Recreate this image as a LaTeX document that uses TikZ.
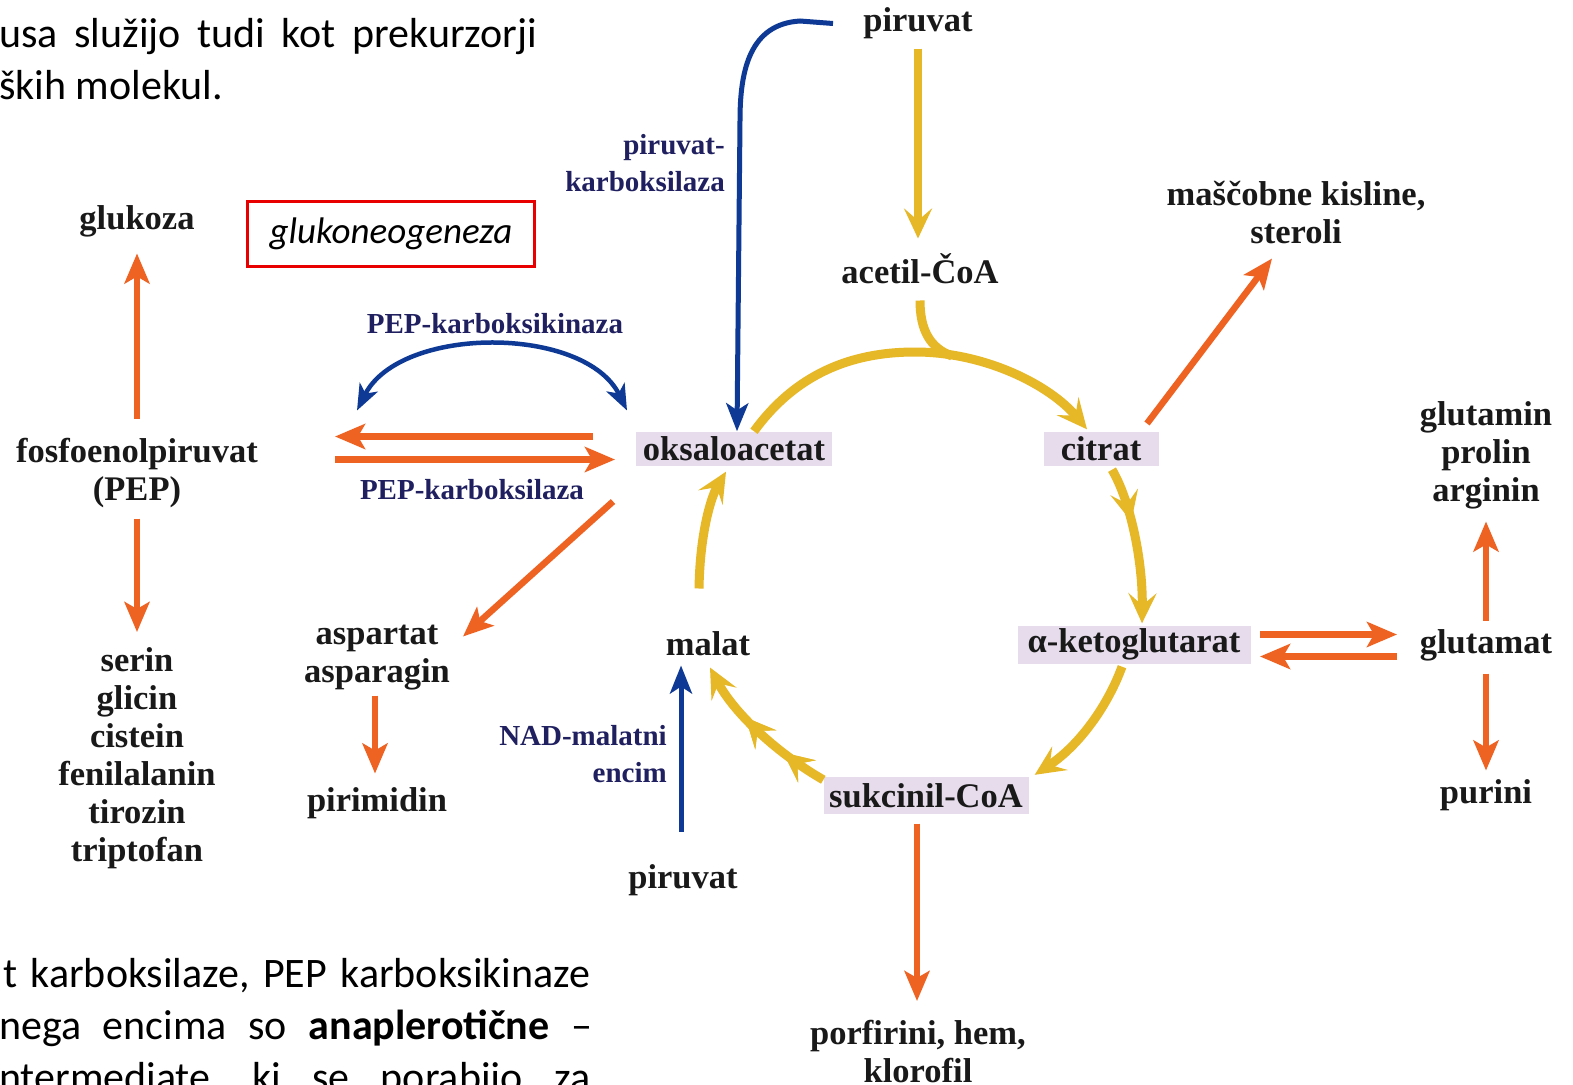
\documentclass[tikz,border=0pt]{standalone}
\usepackage{fontspec}
\setmainfont{Liberation Serif}
\newfontfamily\calib{Carlito}
\usetikzlibrary{arrows.meta,calc,decorations.markings}
\definecolor{orng}{RGB}{238,98,34}
\definecolor{ylw}{RGB}{230,184,40}
\definecolor{blu}{RGB}{14,58,150}
\definecolor{navy}{RGB}{32,32,96}
\definecolor{lav}{RGB}{230,220,236}
\definecolor{redbox}{RGB}{232,0,0}
\begin{document}
\begin{tikzpicture}[x=1pt,y=-1pt,
  lbl/.style={inner sep=0pt, font=\fontsize{34.5}{38}\selectfont\bfseries, align=center, text=black!90, yshift=-3.5pt},
  enz/.style={inner sep=0pt, font=\fontsize{29}{37}\selectfont\bfseries, text=navy, align=center, yshift=-2pt},
  mbox/.style={lbl, fill=lav, minimum height=34pt},
  body/.style={inner sep=0pt, anchor=base west, font=\calib\fontsize{42}{52}\selectfont},
  oarr/.style={draw=orng, line width=6.5pt, -{Stealth[length=30pt,width=25pt,inset=7pt]}},
  barr/.style={draw=blu, line width=5pt, -{Stealth[length=28pt,width=22pt,inset=7pt]}},
  ytip/.tip={Stealth[length=30pt,width=28pt,inset=12pt]},
  yarr/.style={draw=ylw, color=ylw, line width=9pt, -ytip},
  midarr/.style={postaction={decorate}, decoration={markings, mark=at position #1 with {\arrow{ytip}}}},
]
\useasboundingbox (0,0) rectangle (1573,1084);
\clip (0,0) rectangle (1573,1084);
\fill[white] (0,0) rectangle (1573,1084);

% body text
\node[body] (t1) at (-1,47) {\hbox to 538pt{usa\hfill služijo\hfill tudi\hfill kot\hfill prekurzorji}};
\node[body] (t2) at (-1,99) {ških molekul.};
\node[body] (b1) at (3,987) {\hbox to 587pt{t\hfill karboksilaze,\hfill PEP\hfill karboksikinaze}};
\node[body] (b2) at (-1,1039) {\hbox to 593pt{nega\hfill encima\hfill so\hfill \textbf{anaplerotične}\hfill –}};
\node[body] (b3) at (-1,1091) {\hbox to 591pt{ntermediate,\hfill ki\hfill se\hfill porabijo\hfill za}};

% framed label
\node[draw=redbox, line width=3pt, minimum width=287pt, minimum height=65pt, inner sep=0pt,
      font=\calib\itshape\fontsize{37}{40}\selectfont] (gng) at (391,233.5) {\raisebox{-3pt}{glukoneogeneza}};

% nodes
\node[lbl] (pirT) at (918,20) {piruvat};
\node[lbl] (acetil) at (920,265) {acetil-ČoA};
\node[lbl] (masc) at (1296,209) {maščobne kisline,\\steroli};
\node[lbl] (gluk) at (137,218) {glukoza};
\node[enz] (pepkin) at (495,322) {PEP-karboksikinaza};
\node[lbl] (pep) at (137,470) {fosfoenolpiruvat\\(PEP)};
\node[mbox, minimum width=196pt] (oks) at (734,445) {oksaloacetat};
\node[mbox, minimum width=115pt] (cit) at (1101,445) {citrat};
\node[lbl] (glm) at (1486,452) {glutamin\\prolin\\arginin};
\node[enz] (pepkarb) at (472,488) {PEP-karboksilaza};
\node[lbl] (asp) at (377,654) {aspartat\\asparagin};
\node[lbl] (mal) at (708,640) {malat};
\node[mbox, minimum width=233pt, minimum height=38pt] (akg) at (1134,641) {α-ketoglutarat};
\node[lbl] (glt) at (1486,642) {glutamat};
\node[lbl] (amino) at (137,754.5) {serin\\glicin\\cistein\\fenilalanin\\tirozin\\triptofan};
\node[enz, align=right, anchor=east] (nad) at (667,752) {NAD-malatni\\encim};
\node[lbl] (pirim) at (377,800) {pirimidin};
\node[mbox, minimum width=205pt, minimum height=37pt] (suk) at (926,792) {sukcinil-CoA};
\node[lbl] (pur) at (1486,792) {purini};
\node[lbl] (pirB) at (683,877) {piruvat};
\node[lbl] (porf) at (918,1048.5) {porfirini, hem,\\klorofil};
\node[enz, align=right, anchor=east] (pkarb) at (725,161.5) {piruvat-\\karboksilaza};

% orange arrows
\draw[oarr] ($(pep)+(0,-55)$) -- ($(gluk)+(0,32)$);
\draw[oarr] ($(pep)+(0,45)$) -- ($(amino)+(0,-126)$);
\draw[oarr] ($(oks)+(-141,-12)$) -- ($(pep)+(198,-37)$);
\draw[oarr] ($(pep)+(198,-14)$) -- ($(oks)+(-119,11)$);
\draw[oarr] ($(oks)+(-121,53)$) -- ($(asp)+(86,-21)$);
\draw[oarr] ($(asp)+(-2,38)$) -- ($(pirim)+(-2,-30)$);
\draw[oarr] ($(cit)+(46,-25)$) -- ($(masc)+(-24,46)$);
\draw[oarr] ($(akg)+(126,-10)$) -- ($(glt)+(-89,-11)$);
\draw[oarr] ($(glt)+(-89,11)$) -- ($(akg)+(126,12)$);
\draw[oarr] ($(glt)+(0,-25)$) -- ($(glm)+(0,66)$);
\draw[oarr] ($(glt)+(0,28)$) -- ($(pur)+(0,-25)$);
\draw[oarr] ($(suk)+(-9,28)$) -- ($(porf)+(-1,-51)$);

% blue arrows
\draw[barr] ($(pirT)+(-85,0)$) -- (800,21) .. controls (750,24) and (740,70) .. (740,120) -- ($(oks.north)+(3,0)$);
\draw[barr, line width=4.5pt, {Stealth[length=26pt,width=20pt,inset=7pt]}-{Stealth[length=26pt,width=20pt,inset=7pt]}]
  ($(pep)+(220,-63)$) .. controls (400,325) and (585,325) .. ($(oks)+(-107,-38)$);
\draw[barr] ($(pirB)+(-2,-49)$) -- ($(mal)+(-27,22)$);

% citric acid cycle (yellow)
\draw[yarr, line width=8pt] ($(pirT)+(0,25)$) -- ($(acetil)+(-2,-30)$);
\draw[ylw, line width=9pt] ($(acetil)+(0,32)$) .. controls (920,330) and (930,348) .. (952,356);
\draw[yarr] ($(oks.north)+(20,0)$) .. controls (800,368) and (860,352) .. (915,352)
  .. controls (985,352) and (1050,385) .. ($(cit.north)+(-14,-2)$);
\draw[yarr, midarr=0.35] ($(cit.south)+(11,4)$) .. controls (1130,500) and (1143,560) .. ($(akg.north)+(8,-2)$);
\draw[yarr] ($(akg.south)+(-12,3)$) .. controls (1108,705) and (1080,745) .. ($(suk.north east)+(6,-2)$);
\draw[yarr, midarr=0.3, midarr=0.62] ($(suk.north west)+(0,3)$) .. controls (780,755) and (735,715) .. ($(mal)+(2,24)$);
\draw[yarr] ($(mal)+(-9,-55)$) .. controls (700,530) and (712,495) .. ($(oks.south)+(-8,6)$);
\end{tikzpicture}
\end{document}
